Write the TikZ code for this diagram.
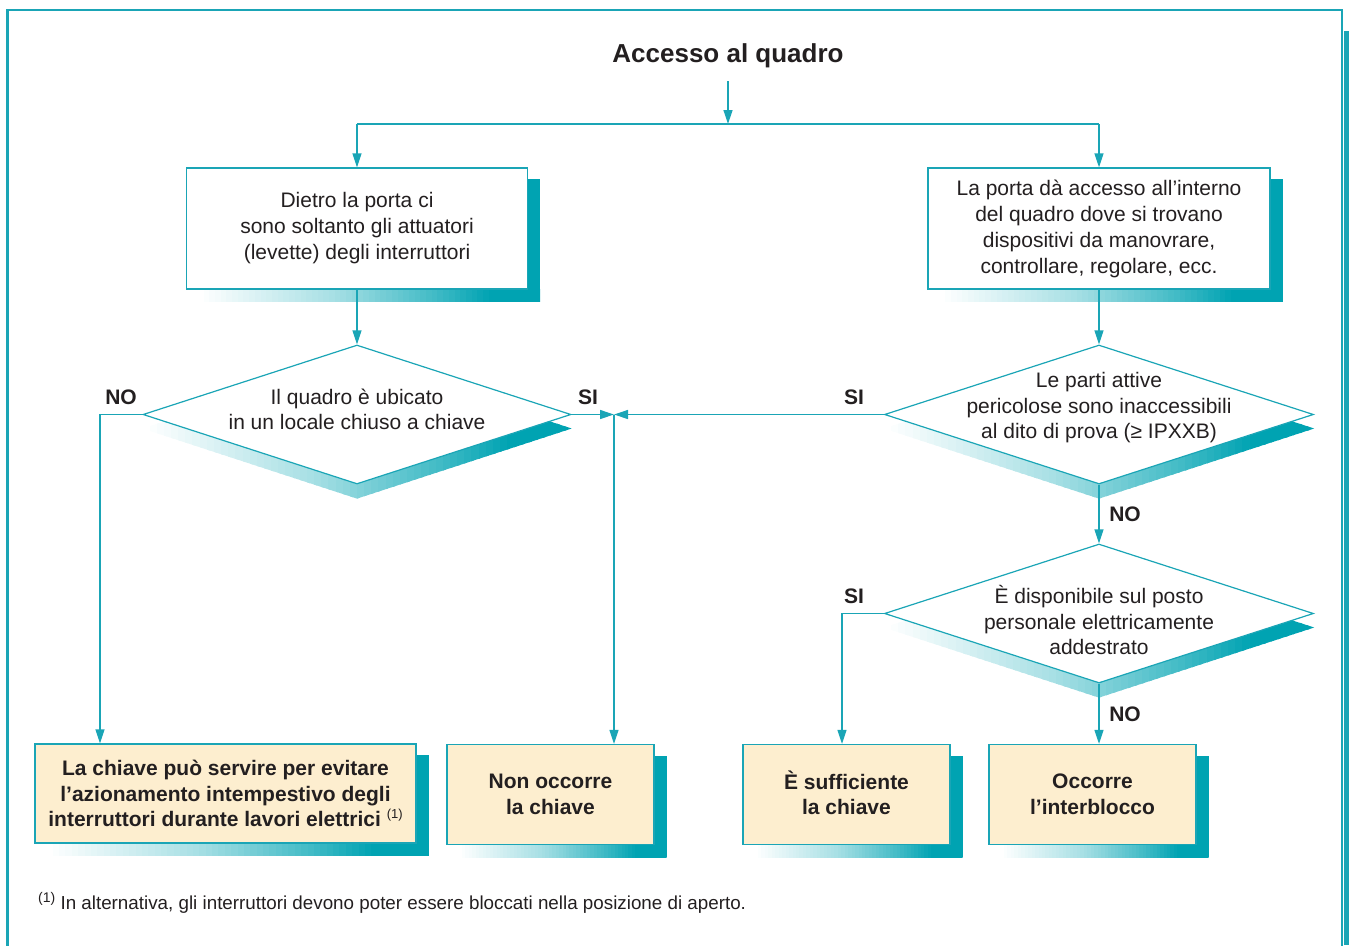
\documentclass[tikz,border=0pt]{standalone}
\usepackage{fontspec}
\setmainfont{Liberation Sans}
\usetikzlibrary{arrows.meta,shapes.geometric,calc,backgrounds}
\definecolor{ln}{RGB}{26,165,182}
\definecolor{sh}{RGB}{0,163,178}
\definecolor{bg}{RGB}{253,238,207}
\definecolor{tx}{RGB}{35,31,32}
% gradient built from thin strips between coordinates (gA) and (gB)
\newcommand\gradstrips{%
  \foreach \i in {0,...,59}{%
    \pgfmathsetmacro\t{\i/59}%
    \pgfmathsetmacro\p{\t<0.4 ? \t/0.4*35 : (\t<0.7 ? 35+(\t-0.4)/0.3*40 : min(100,75+(\t-0.7)/0.16*25))}%
    \pgfmathsetmacro\a{\i/60}%
    \pgfmathsetmacro\b{(\i+1.4)/60}%
    \fill[sh!\p] ($(gA)!\a!(gB)+(0,-90)$) rectangle ($(gA)!\b!(gB)+(0,90)$);
  }}
\newcommand\bxshd[1]{%
  \begin{scope}
  \clip ([xshift=12pt]#1.south west) rectangle ([xshift=12pt,yshift=-12pt]#1.south east);
  \coordinate (gA) at ([xshift=12pt]#1.south west);
  \coordinate (gB) at ([xshift=12pt]#1.south east);
  \gradstrips
  \end{scope}
  \fill[sh] ([yshift=-12pt]#1.north east) rectangle ([xshift=12pt,yshift=-12pt]#1.south east);}
\newcommand\dishd[1]{%
  \begin{scope}
  \clip ([yshift=-14pt]#1.west) -- ([yshift=-14pt]#1.north) -- ([yshift=-14pt]#1.east) -- ([yshift=-14pt]#1.south) -- cycle;
  \coordinate (gA) at (#1.west);
  \coordinate (gB) at (#1.east);
  \gradstrips
  \end{scope}}
\begin{document}
\begin{tikzpicture}[x=1pt,y=-1pt,
  every node/.style={text=tx},
  box/.style={rectangle, draw=ln, line width=1.3pt, fill=white, inner sep=0pt, align=center, font=\fontsize{21}{26}\selectfont},
  res/.style={box, fill=bg, font=\bfseries\fontsize{21}{25.5}\selectfont},
  dia/.style={diamond, draw=ln, line width=1.2pt, fill=white, inner sep=0pt, minimum width=428pt, minimum height=139pt},
  dtext/.style={align=center, inner sep=0pt, font=\fontsize{21}{25.5}\selectfont},
  lbl/.style={inner sep=0pt, font=\bfseries\fontsize{21}{25}\selectfont},
  con/.style={draw=ln, line width=1.3pt},
  arr/.style={con, -{Triangle[length=14pt,width=9pt]}}]
\useasboundingbox (0,0) rectangle (1349,945);
% frame
\draw[ln, line width=2.5pt] (7.5,950) -- (7.5,10) -- (1342,10) -- (1342,950);
\fill[ln] (1343.5,31) rectangle (1349,945);
% title
\node[inner sep=0pt, font=\bfseries\fontsize{26}{30}\selectfont] (t) at (728,56) {Accesso al quadro};
\coordinate (j) at (728,124);
% boxes
\node[box, minimum width=341pt, minimum height=121pt] (b1) at (357,228.5) {Dietro la porta ci\\sono soltanto gli attuatori\\(levette) degli interruttori};
\node[box, minimum width=342pt, minimum height=121pt] (b2) at (1099,228.5) {La porta dà accesso all’interno\\del quadro dove si trovano\\dispositivi da manovrare,\\controllare, regolare, ecc.};
% diamonds
\node[dia] (d1) at (357,414.5) {};
\node[dtext] (d1t) at (357,409.5) {Il quadro è ubicato\\in un locale chiuso a chiave};
\node[dia, minimum width=429pt] (d2) at (1099,414.5) {};
\node[dtext] (d2t) at (1099,408) {Le parti attive\\pericolose sono inaccessibili\\al dito di prova (≥ IPXXB)};
\node[dia, minimum width=429pt] (d3) at (1099,613.5) {};
\node[dtext] (d3t) at (1099,620) {È disponibile sul posto\\personale elettricamente\\addestrato};
% results
\node[res, minimum width=381pt, minimum height=99pt] (bA) at (225.5,793.5) {La chiave può servire per evitare\\l’azionamento intempestivo degli\\interruttori durante lavori elettrici {\mdseries\fontsize{13}{13}\selectfont\raisebox{8pt}{(1)}}};
\node[res, minimum width=207pt, minimum height=100pt] (bB) at (550.5,794.5) {Non occorre\\la chiave};
\node[res, minimum width=207pt, minimum height=100pt] (bC) at (846.5,794.5) {\smash{È} sufficiente\\la chiave};
\node[res, minimum width=207pt, minimum height=100pt] (bD) at (1092.5,794.5) {Occorre\\l’interblocco};
% shadows
\begin{scope}[on background layer]
\bxshd{b1}\bxshd{b2}\bxshd{bA}\bxshd{bB}\bxshd{bC}\bxshd{bD}
\dishd{d1}\dishd{d2}\dishd{d3}
\end{scope}
% labels
\node[lbl] (l1) at (121,397) {NO};
\node[lbl] (l2) at (588,397) {SI};
\node[lbl] (l3) at (854,397) {SI};
\node[lbl] (l4) at (1125,514) {NO};
\node[lbl] (l5) at (854,596) {SI};
\node[lbl] (l6) at (1125,714) {NO};
% connectors
\draw[arr] ([yshift=-13pt]t.south) -- (j);
\draw[con] (b1.north |- j) -- (b2.north |- j);
\draw[arr] (b1.north |- j) -- (b1.north);
\draw[arr] (b2.north |- j) -- (b2.north);
\draw[arr] (b1.south) -- (d1.north);
\draw[arr] (b2.south) -- (d2.north);
\draw[arr] (d2.south) -- (d3.north);
\coordinate (m) at (614,414.5);
\draw[arr] (d1.east) -- (m);
\draw[arr] (d2.west) -- (m);
\draw[arr] (m) -- (m |- bB.north);
\coordinate (xA) at (100,0);
\draw[arr] (d1.west) -| (xA |- bA.north);
\coordinate (xC) at (842,0);
\draw[arr] (d3.west) -| (xC |- bC.north);
\draw[arr] (d3.south) -- (d3.south |- bD.north);
% footnote
\node[anchor=base west, inner sep=0pt, font=\fontsize{18.8}{21}\selectfont] (fn) at (38,909) {{\fontsize{14}{14}\selectfont\raisebox{6.5pt}{(1)}} In alternativa, gli interruttori devono poter essere bloccati nella posizione di aperto.};
\end{tikzpicture}
\end{document}
